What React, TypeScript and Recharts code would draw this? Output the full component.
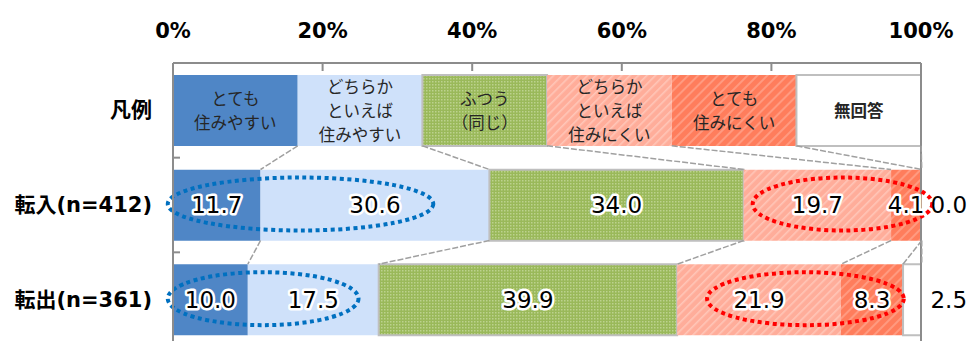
import React from 'react';
import { BarChart, Bar, XAxis, YAxis, ReferenceLine, LabelList } from 'recharts';

const categories = ['凡例', '転入(n=412)', '転出(n=361)'];
const seriesNames = [
  'とても\n住みやすい',
  'どちらか\nといえば\n住みやすい',
  'ふつう\n（同じ）',
  'どちらか\nといえば\n住みにくい',
  'とても\n住みにくい',
  '無回答',
];
const legendValues = [16.67, 16.67, 16.67, 16.67, 16.67, 16.67];
const tennyuValues = [11.7, 30.6, 34.0, 19.7, 4.1, 0.0];
const tenshutsuValues = [10.0, 17.5, 39.9, 21.9, 8.3, 2.5];
const xTicks = [0, 20, 40, 60, 80, 100];

// dotted ellipse annotations (row, from %, to %)
const blueNotes = [
  { row: '転入(n=412)', from: -0.7, to: 34.8 },
  { row: '転出(n=361)', from: -0.7, to: 24.8 },
];
const redNotes = [
  { row: '転入(n=412)', from: 77.5, to: 101.5 },
  { row: '転出(n=361)', from: 71.4, to: 97.7 },
];

const rowValues = [legendValues, tennyuValues, tenshutsuValues];
const keys = ['s0', 's1', 's2', 's3', 's4', 's5'];
const data = categories.map((c, r) => {
  const o: any = { cat: c };
  keys.forEach((k, i) => (o[k] = rowValues[r][i]));
  return o;
});
const cums = rowValues.map((vals) => {
  let s = 0;
  return vals.map((v) => (s += v));
});

const fills = ['#4F86C6', '#CFE1FA', 'url(#pGreen)', 'url(#pPink)', 'url(#pSalmon)', '#FFFFFF'];
const strokes = ['none', 'none', '#BFBFBF', 'none', 'none', '#BFBFBF'];

const BAR = 71;
const AXIS = '#8C8C8C';
const NUMFONT = "'DejaVu Sans', 'Noto Sans CJK JP', sans-serif";
const JPFONT = "'Noto Sans CJK JP', sans-serif";

const XTick = (props: any) => {
  const { x, y, payload } = props;
  return (
    <g>
      <line x1={x} x2={x} y1={y} y2={y + 8} stroke={AXIS} strokeWidth={2} />
      <text x={x} y={y - 25} textAnchor="middle" fontFamily={NUMFONT} fontWeight="bold" fontSize={21} fill="#000">
        {payload.value}%
      </text>
    </g>
  );
};

const YTick = (props: any) => {
  const { x, y, payload } = props;
  return (
    <text x={x} y={y + 7} textAnchor="end" fontFamily={NUMFONT} fontWeight="bold" fontSize={21} fill="#000">
      {payload.value}
    </text>
  );
};

const LINE_H = 24;

const makeLabel = (si: number) => (props: any) => {
  const { x, y, width, height, value, index } = props;
  const cx = x + width / 2;
  const cy = y + height / 2;
  if (index === 0) {
    const lines = seriesNames[si].split('\n');
    const n = lines.length;
    return (
      <text
        textAnchor="middle"
        fontFamily={JPFONT}
        fontWeight={si === 5 ? 'bold' : 'normal'}
        fontSize={16.5}
        fill="#262626"
      >
        {lines.map((ln, i) => (
          <tspan key={i} x={cx} y={cy + (i - (n - 1) / 2) * LINE_H + 6}>
            {ln}
          </tspan>
        ))}
      </text>
    );
  }
  if (si === 5) return null;
  const txt = Number(value).toFixed(1);
  return (
    <text
      x={cx}
      y={cy + 8}
      textAnchor="middle"
      fontFamily={NUMFONT}
      fontSize={23}
      fill="#000"
      stroke="#FFFFFF"
      strokeWidth={5}
      strokeLinejoin="round"
      paintOrder="stroke"
    >
      {txt}
    </text>
  );
};

const outsideLabel = (txt: string) => (p: any) => (
  <text x={p.x1 + 27} y={p.y1 + 8} textAnchor="middle" fontFamily={NUMFONT} fontSize={23} fill="#000">
    {txt}
  </text>
);

const connectorShape = (p: any) => (
  <line
    x1={p.x1}
    y1={p.y1 + BAR / 2}
    x2={p.x2}
    y2={p.y2 - BAR / 2}
    stroke="#A0A0A0"
    strokeWidth={1.5}
    strokeDasharray="6 2"
  />
);

const ellipseShape = (color: string) => (p: any) => (
  <ellipse
    cx={(p.x1 + p.x2) / 2}
    cy={p.y1 - 1}
    rx={Math.abs(p.x2 - p.x1) / 2}
    ry={26.5}
    fill="none"
    stroke={color}
    strokeWidth={4}
    strokeDasharray="4 3.5"
  />
);

const boundaryTick = (p: any) => (
  <line x1={p.x1} x2={p.x1 + 7} y1={p.y1} y2={p.y1} stroke={AXIS} strokeWidth={2} />
);

export default function App() {
  const connectors: any[] = [];
  for (let r = 0; r < 2; r++) {
    for (let i = 0; i < 6; i++) {
      connectors.push(
        <ReferenceLine
          key={`c${r}${i}`}
          ifOverflow="visible"
          segment={[
            { x: cums[r][i], y: categories[r] },
            { x: cums[r + 1][i], y: categories[r + 1] },
          ]}
          shape={connectorShape}
        />
      );
    }
  }
  return (
    <div style={{ position: 'absolute', left: 0, top: 0, width: 971, height: 341, overflow: 'hidden', background: '#fff' }}>
      <BarChart
        layout="vertical"
        width={971}
        height={347}
        data={data}
        margin={{ top: 0, right: 50, bottom: 0, left: 0 }}
        barSize={BAR}
      >
        <defs>
          <pattern id="pGreen" width="3" height="3" patternUnits="userSpaceOnUse">
            <rect width="3" height="3" fill="#9AB95A" />
            <rect width="1.5" height="1.5" fill="#BCD28E" />
          </pattern>
          <pattern id="pPink" width="6" height="6" patternUnits="userSpaceOnUse" patternTransform="rotate(45)">
            <rect width="6" height="6" fill="#FFAD9A" />
            <rect width="1.6" height="6" fill="#FFC6B8" />
          </pattern>
          <pattern id="pSalmon" width="7" height="7" patternUnits="userSpaceOnUse" patternTransform="rotate(45)">
            <rect width="7" height="7" fill="#FF7D5C" />
            <rect width="2" height="7" fill="#FF9A80" />
          </pattern>
        </defs>
        <XAxis
          type="number"
          orientation="top"
          domain={[0, 100]}
          ticks={xTicks}
          allowDataOverflow
          height={63}
          tickSize={0}
          tickMargin={0}
          tick={<XTick />}
          axisLine={{ stroke: AXIS, strokeWidth: 2 }}
          interval={0}
        />
        <YAxis
          type="category"
          dataKey="cat"
          width={173}
          tickSize={0}
          tickMargin={21}
          tick={<YTick />}
          axisLine={{ stroke: AXIS, strokeWidth: 2 }}
          tickLine={false}
          interval={0}
        />
        {keys.map((k, i) => (
          <Bar
            key={k}
            dataKey={k}
            stackId="a"
            fill={fills[i]}
            stroke={strokes[i]}
            strokeWidth={2}
            isAnimationActive={false}
          >
            <LabelList dataKey={k} content={makeLabel(i)} />
          </Bar>
        ))}
        <ReferenceLine x={100} stroke={AXIS} strokeWidth={2} ifOverflow="visible" />
        {connectors}
        {categories.slice(0, 2).map((c) => (
          <ReferenceLine
            key={`b${c}`}
            ifOverflow="visible"
            position="end"
            segment={[
              { x: 0, y: c },
              { x: 0, y: c },
            ]}
            shape={boundaryTick}
          />
        ))}
        {blueNotes.map((n, i) => (
          <ReferenceLine
            key={`bl${i}`}
            ifOverflow="visible"
            segment={[
              { x: n.from, y: n.row },
              { x: n.to, y: n.row },
            ]}
            shape={ellipseShape('#0070C0')}
          />
        ))}
        {redNotes.map((n, i) => (
          <ReferenceLine
            key={`rd${i}`}
            ifOverflow="visible"
            segment={[
              { x: n.from, y: n.row },
              { x: n.to, y: n.row },
            ]}
            shape={ellipseShape('#FF0000')}
          />
        ))}
        {[1, 2].map((r) => (
          <ReferenceLine
            key={`o${r}`}
            ifOverflow="visible"
            segment={[
              { x: cums[r][5], y: categories[r] },
              { x: cums[r][5], y: categories[r] },
            ]}
            shape={outsideLabel(rowValues[r][5].toFixed(1))}
          />
        ))}
      </BarChart>
    </div>
  );
}
